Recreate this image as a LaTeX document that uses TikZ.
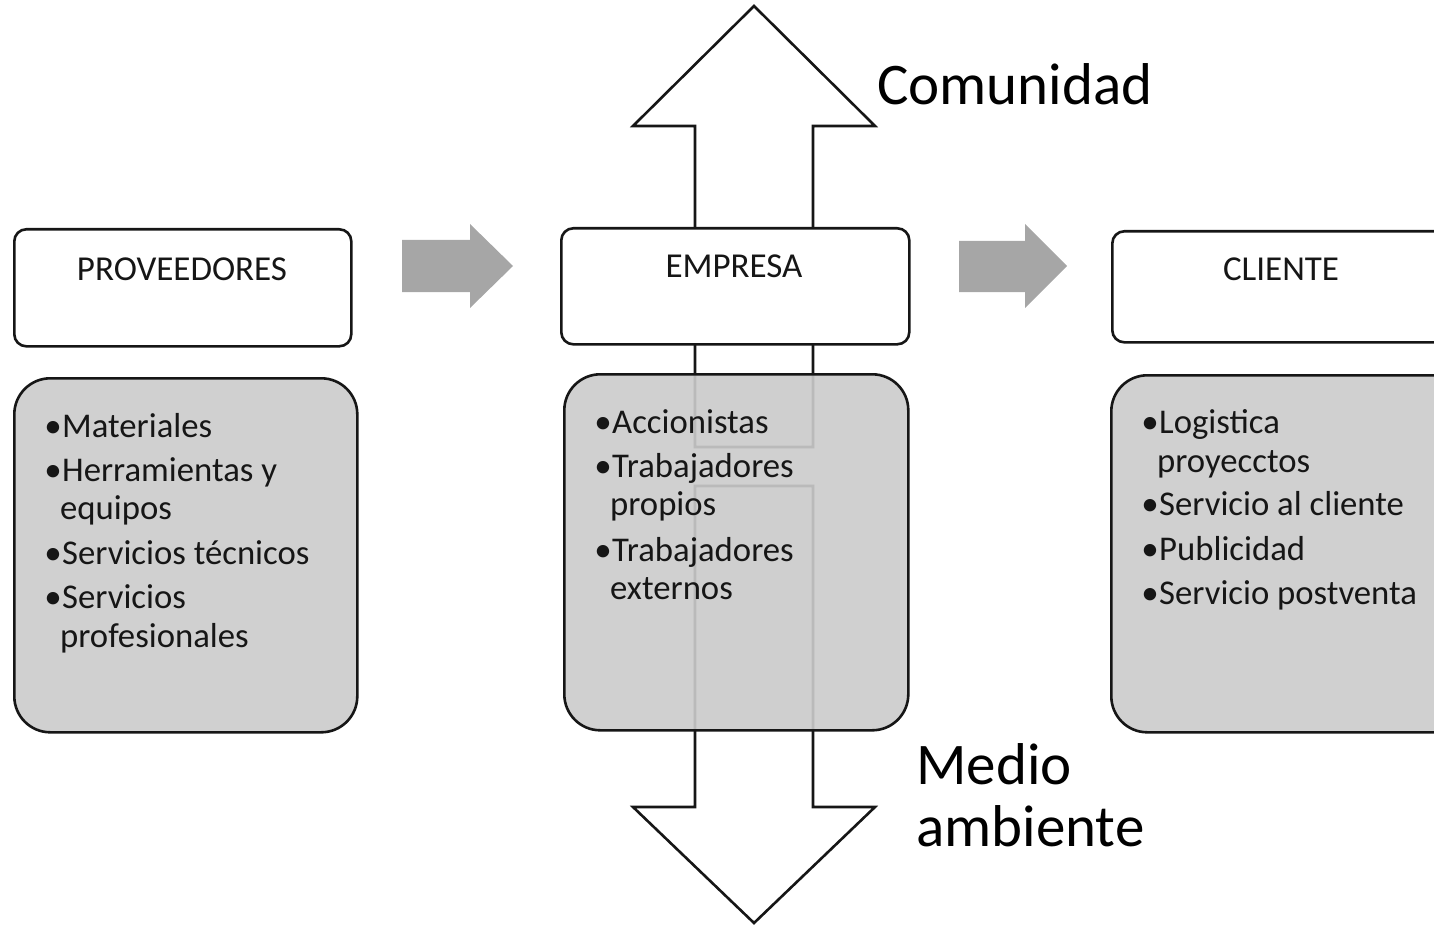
\documentclass[tikz,border=0pt]{standalone}
\usepackage{fontspec}
\setmainfont{Carlito}
\definecolor{boxgray}{RGB}{203,203,203}
\definecolor{arrgray}{RGB}{166,166,166}
\definecolor{ink}{RGB}{22,22,22}
\begin{document}
\begin{tikzpicture}[x=1pt,y=-1pt,
  topbox/.style={draw=ink, line width=2.6pt, fill=white, rounded corners=12pt, inner sep=0pt, anchor=north west},
  listbox/.style={draw=ink, line width=2.6pt, fill=boxgray, fill opacity=0.91, rounded corners=36pt, inner sep=0pt, anchor=north west},
  bigarrow/.style={draw=ink, line width=2.6pt, fill=white, line join=miter},
  flowarrow/.style={fill=arrgray},
  boxlabel/.style={anchor=base, font=\fontsize{35}{40}\selectfont, text=ink, inner sep=0pt},
  item/.style={anchor=base west, font=\fontsize{34.7}{40}\selectfont, text=ink, inner sep=0pt},
  bul/.style={anchor=base east, font=\fontsize{35}{40}\selectfont, text=ink, inner sep=0pt},
  biglabel/.style={anchor=base west, font=\fontsize{59}{62}\selectfont, text=black, inner sep=0pt},
]
\useasboundingbox (0,0) rectangle (1434,925);
\clip (0,0) rectangle (1434,925);

% big vertical arrows (behind the boxes)
\coordinate (upTip) at (754,6);
\coordinate (dnTip) at (754,923);
\draw[bigarrow] (upTip) -- (875,126) -- (813,126) -- (813,447) -- (695,447) -- (695,126) -- (633,126) -- cycle;
\draw[bigarrow] (695,486) -- (813,486) -- (813,807) -- (875,807) -- (dnTip) -- (633,807) -- (695,807) -- cycle;

% flow arrows
\coordinate (f1) at (402,240);
\coordinate (f2) at (959,241);
\fill[flowarrow] (f1) -- ++(68,0) -- (470,224) -- (513,266) -- (470,308) -- (470,292) -- (402,292) -- cycle;
\fill[flowarrow] (f2) -- ++(66,0) -- (1025,224) -- (1067,266) -- (1025,308) -- (1025,292) -- (959,292) -- cycle;

% list boxes
\node[listbox, minimum width=343pt, minimum height=354pt] (provL) at (13,377) {};
\node[listbox, minimum width=344pt, minimum height=356pt] (empL) at (563,373) {};
\node[listbox, minimum width=360pt, minimum height=357pt] (cliL) at (1110,374) {};

% top boxes
\node[topbox, minimum width=337pt, minimum height=117pt] (prov) at (13,228) {};
\node[topbox, minimum width=348pt, minimum height=116pt] (emp) at (560,227) {};
\node[topbox, minimum width=360pt, minimum height=111pt] (cli) at (1111,230) {};

\node[boxlabel] (provT) at (182,280) {PROVEEDORES};
\node[boxlabel] (empT) at (734,277) {EMPRESA};
\node[boxlabel] (cliT) at (1281,280) {CLIENTE};

% PROVEEDORES items
\node[bul] (pb1) at (62,437) {•}; \node[item] (p1) at (62,437) {Materiales};
\node[bul] (pb2) at (62,481) {•}; \node[item] (p2) at (62,481) {Herramientas y};
\node[item] (p2b) at (60,519) {equipos};
\node[bul] (pb3) at (62,564) {•}; \node[item] (p3) at (62,564) {Servicios técnicos};
\node[bul] (pb4) at (62,608) {•}; \node[item] (p4) at (62,608) {Servicios};
\node[item] (p4b) at (60,647) {profesionales};

% EMPRESA items
\node[bul] (eb1) at (612,433) {•}; \node[item] (e1) at (612,433) {Accionistas};
\node[bul] (eb2) at (612,477) {•}; \node[item] (e2) at (612,477) {Trabajadores};
\node[item] (e2b) at (610,515) {propios};
\node[bul] (eb3) at (612,561) {•}; \node[item] (e3) at (612,561) {Trabajadores};
\node[item] (e3b) at (610,599) {externos};

% CLIENTE items
\node[bul] (cb1) at (1159,433) {•}; \node[item] (c1) at (1159,433) {Logistica};
\node[item] (c1b) at (1157,472) {proyecctos};
\node[bul] (cb2) at (1159,515) {•}; \node[item] (c2) at (1159,515) {Servicio al cliente};
\node[bul] (cb3) at (1159,560) {•}; \node[item] (c3) at (1159,560) {Publicidad};
\node[bul] (cb4) at (1159,604) {•}; \node[item] (c4) at (1159,604) {Servicio postventa};

% side labels
\node[biglabel] (com) at (877,105) {Comunidad};
\node[biglabel] (med) at (916,784) {Medio};
\node[biglabel] (amb) at (916,846) {ambiente};
\end{tikzpicture}
\end{document}
